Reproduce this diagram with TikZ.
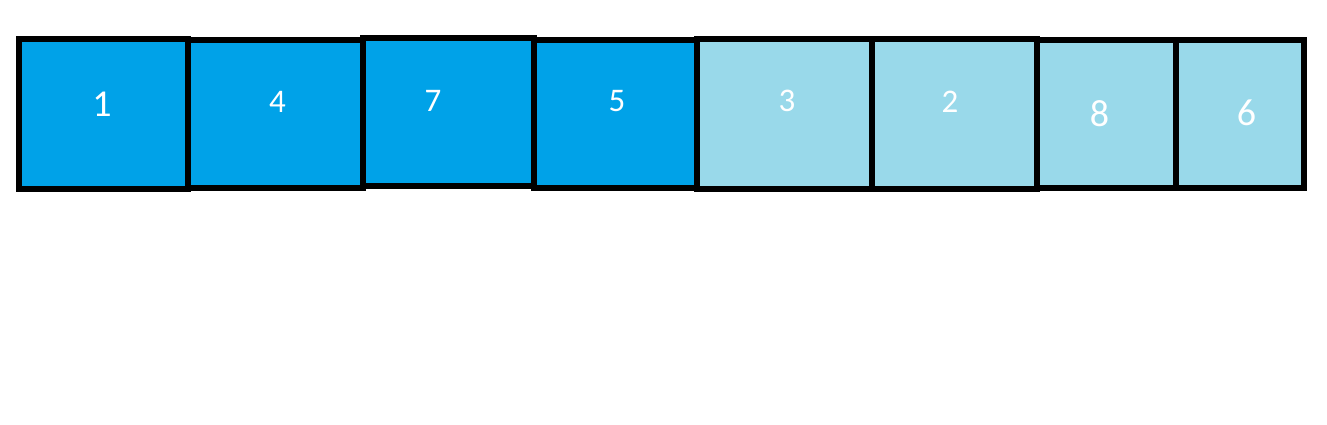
\documentclass[tikz,border=0pt]{standalone}
\usepackage{fontspec}
\usetikzlibrary{positioning}
\newfontfamily\cellfont{Carlito}
\definecolor{cellblue}{RGB}{0,162,232}
\definecolor{celllight}{RGB}{153,217,234}
\begin{document}
\begin{tikzpicture}[x=1pt,y=1pt,
    cell/.style={draw=black,line width=6pt,outer sep=0pt,inner sep=0pt},
    done/.style={cell,fill=cellblue},
    todo/.style={cell,fill=celllight},
    numsmall/.style={text=white,font=\cellfont\fontsize{33}{36}\selectfont,inner sep=0pt},
    numbig/.style={text=white,font=\cellfont\fontsize{38}{40}\selectfont,inner sep=0pt}]
          \useasboundingbox[fill=white] (0,0) rectangle (1327,424);
          % sorted part
          \node[done,minimum width=169pt,minimum height=150pt] (b1) at (103.5,310) {};
          \node[done,minimum width=175pt,minimum height=148pt,right=0pt of b1] (b4) {};
          \node[done,minimum width=170.5pt,minimum height=147.5pt,right=0pt of b4,yshift=2pt] (b7) {};
          \node[done,minimum width=163.5pt,minimum height=147.5pt,right=0pt of b7,yshift=-2pt] (b5) {};
          % unsorted part
          \node[todo,minimum width=174.5pt,minimum height=150.5pt,right=0pt of b5] (b3) {};
          \node[todo,minimum width=165.5pt,minimum height=150.5pt,right=0pt of b3] (b2) {};
          \node[todo,minimum width=138.5pt,minimum height=148pt,right=0pt of b2] (b8) {};
          \node[todo,minimum width=128pt,minimum height=147.5pt,right=0pt of b8] (b6) {};

          \node[numbig] (n1) at (102,319.5) {1};
          \node[numsmall] (n4) at (277.5,322) {4};
          \node[numsmall] (n7) at (433,323) {7};
          \node[numsmall] (n5) at (617,323) {5};
          \node[numsmall] (n3) at (787,323) {3};
          \node[numsmall] (n2) at (950,322) {2};
          \node[numbig] (n8) at (1099.5,310.5) {8};
          \node[numbig] (n6) at (1246.5,311) {6};
        \end{tikzpicture}
\end{document}
